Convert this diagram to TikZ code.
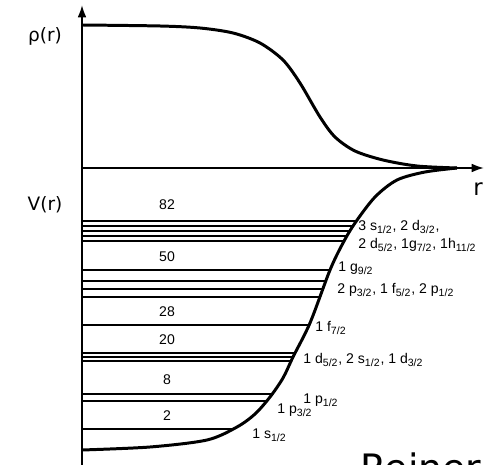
\documentclass[tikz,border=0pt]{standalone}
\usepackage{fontspec}
\setmainfont{Liberation Sans}
\newfontfamily\axfont{DejaVu Sans}
\usetikzlibrary{arrows.meta}
\newcommand{\ssub}[1]{\textsubscript{#1}}

\begin{document}
\begin{tikzpicture}[x=0.02cm,y=-0.02cm,font=\fontsize{8}{9}\selectfont,
 ax/.style={line width=1.1pt,-{Latex[length=7pt,width=5pt]}},
 crv/.style={line width=1.7pt,line join=round},
 lev/.style={line width=1.1pt},
 lab/.style={anchor=west,inner sep=0pt},
 mag/.style={inner sep=0pt},
 big/.style={inner sep=0pt,font=\axfont\fontsize{10.5}{12}\selectfont}]
\clip (0,0) rectangle (493,465);
% axes
\coordinate (o) at (82,168);
\draw[ax] (82,470) -- (82,5);
\draw[ax] (o) -- (484,168);
\node[big] (rho) at (45,36) {ρ(r)};
\node[big] (pot) at (45,205) {V(r)};
\node[big,font=\axfont\fontsize{13}{14}\selectfont] (rr) at (478,189) {r};
% levels, cut at the potential wall
\begin{scope}
\clip plot[smooth,tension=0.5] coordinates {(82,450) (150,447) (207,440) (237,427) (255,414) (270,397) (283,378) (293,357) (310,323) (330,270) (343,243) (355,223) (375,197) (397,180) (425,172) (457,168)} -- (82,168) -- cycle;
\foreach \y in {221,226,231,236,241,270,281,289,297,325,353,357,361,394,401,429}
  \draw[lev] (82,\y) -- (480,\y);
\end{scope}
% density and potential
\draw[crv] plot[smooth,tension=0.5] coordinates {(82,25) (160,26) (200,28) (233,33) (260,43) (283,60) (300,83) (320,117) (335,137) (355,151) (383,160) (417,166) (457,168)};
\draw[crv] plot[smooth,tension=0.5] coordinates {(82,450) (150,447) (207,440) (237,427) (255,414) (270,397) (283,378) (293,357) (310,323) (330,270) (343,243) (355,223) (375,197) (397,180) (425,172) (457,168)};
% magic numbers
\node[mag] (m82) at (167,205) {82};
\node[mag] (m50) at (167,257) {50};
\node[mag] (m28) at (167,312) {28};
\node[mag] (m20) at (167,340) {20};
\node[mag] (m8) at (167,380) {8};
\node[mag] (m2) at (167,416) {2};
% orbitals
\node[lab] (o82a) at (358,227) {3 s\ssub{1/2}, 2 d\ssub{3/2},};
\node[lab] (o82b) at (358,245) {2 d\ssub{5/2}, 1g\ssub{7/2}, 1h\ssub{11/2}};
\node[lab] (o50a) at (338,268) {1 g\ssub{9/2}};
\node[lab] (o50b) at (337,290) {2 p\ssub{3/2}, 1 f\ssub{5/2}, 2 p\ssub{1/2}};
\node[lab] (o28) at (315,328) {1 f\ssub{7/2}};
\node[lab] (o20) at (303,360) {1 d\ssub{5/2}, 2 s\ssub{1/2}, 1 d\ssub{3/2}};
\node[lab] (o8a) at (277,410) {1 p\ssub{3/2}};
\node[lab] (o8b) at (303,400) {1 p\ssub{1/2}};
\node[lab] (o2) at (252,435) {1 s\ssub{1/2}};
% cut-off caption
\node[inner sep=0pt,anchor=base west,font=\axfont\fontsize{21.5}{24}\selectfont] (cap) at (360,481) {Reiner};
\end{tikzpicture}
\end{document}
